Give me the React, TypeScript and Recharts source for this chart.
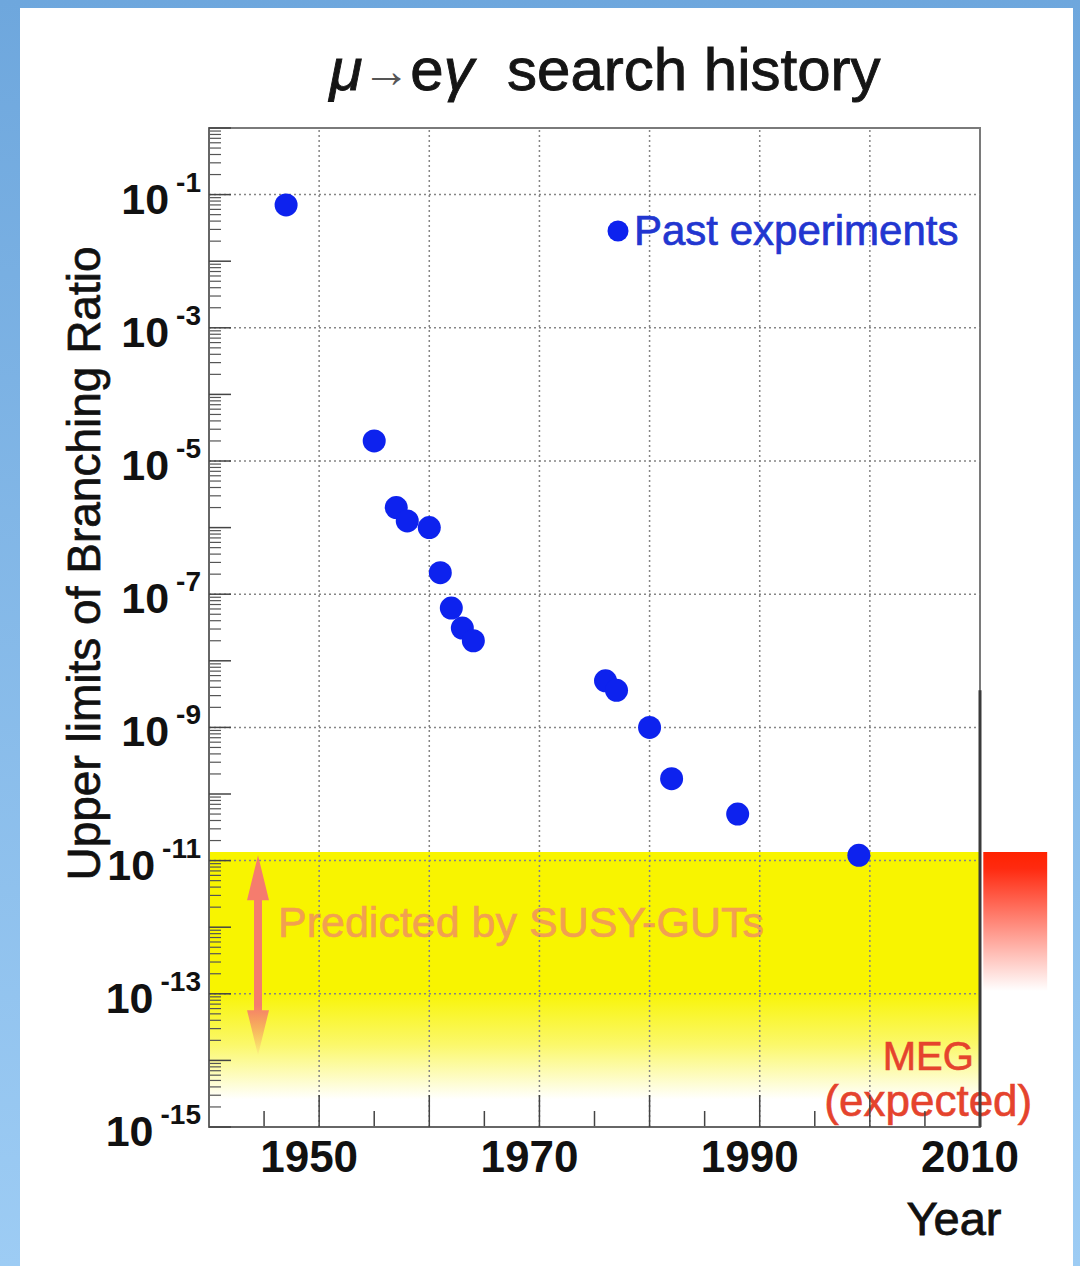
import React from 'react';
import {
  ScatterChart,
  Scatter,
  XAxis,
  YAxis,
  ReferenceArea,
  ReferenceLine,
  Legend,
} from 'recharts';

// ---- data ----
const years = [1947, 1955, 1957, 1958, 1960, 1961, 1962, 1963, 1964, 1976, 1977, 1980, 1982, 1988, 1999];
const limits = [7e-2, 2e-5, 2e-6, 1.26e-6, 1e-6, 2.1e-7, 6.2e-8, 3.1e-8, 2e-8, 5e-9, 3.6e-9, 1e-9, 1.7e-10, 5e-11, 1.2e-11];
const seriesName = 'Past experiments';

// ---- axes ----
const xDomain = [1940, 2010];
const yDomain = [1e-15, 1];
const xLabelTicks = [1950, 1970, 1990, 2010];
const xMajorTicks = [1950, 1960, 1970, 1980, 1990, 2000, 2010];
const xMinorTicks = [1945, 1955, 1965, 1975, 1985, 1995, 2005];
const yLabelTicks = [1e-15, 1e-13, 1e-11, 1e-9, 1e-7, 1e-5, 1e-3, 1e-1];
const yLabelExponents = ['-15', '-13', '-11', '-9', '-7', '-5', '-3', '-1'];
const yDecadeTicks = [1e-15, 1e-14, 1e-13, 1e-12, 1e-11, 1e-10, 1e-9, 1e-8, 1e-7, 1e-6, 1e-5, 1e-4, 1e-3, 1e-2, 1e-1, 1];
const yMinorTicks: number[] = [];
for (let e = -15; e < 0; e++) {
  for (let k = 2; k <= 9; k++) yMinorTicks.push(k * Math.pow(10, e));
}
const xGridLines = [1950, 1960, 1970, 1980, 1990, 2000];
const yGridLines = [1e-13, 1e-11, 1e-9, 1e-7, 1e-5, 1e-3, 1e-1];

// ---- bands / annotations ----
const susyYears = [1940, 2010];
const susyRange = [1e-15, 1.35e-11];
const megYears = [2010.3, 2016.1];
const megRange = [1.1e-13, 1.35e-11];
const arrowYear = 1944.45;
const arrowRange = [1.2e-14, 1.2e-11];
const frameEdgeRange = [1e-15, 3.6e-9];

const data = years.map((year, i) => ({ year, limit: limits[i] }));

const FONT = '"Liberation Sans", Arial, Helvetica, sans-serif';
const BLUE = '#0d22ee';
const GRID = { stroke: '#858585', strokeWidth: 1.5, strokeDasharray: '2 3' };

const EmptyTick = () => <g />;

const YTick = (props: any) => {
  const { x, y, payload } = props;
  const idx = yLabelTicks.indexOf(payload.value);
  const exp = idx >= 0 ? yLabelExponents[idx] : '';
  return (
    <text x={x} y={y + 19} textAnchor="end" fontFamily={FONT} fontSize={43} fontWeight="bold" fill="#111">
      10
      <tspan fontSize={28} dx={7} dy={-22}>{exp}</tspan>
    </text>
  );
};

const XTick = (props: any) => {
  const { x, y, payload } = props;
  return (
    <text x={x - 10} y={y + 37} textAnchor="middle" fontFamily={FONT} fontSize={44} fontWeight="bold" fill="#111">
      {payload.value}
    </text>
  );
};

const ArrowShape = (props: any) => {
  const { x1, y1, y2 } = props;
  const cx = x1;
  const top = Math.min(y1, y2);
  const bot = Math.max(y1, y2);
  const hw = 11;
  const hl = 45;
  const sw = 4;
  const d = `M${cx},${top} L${cx + hw},${top + hl} L${cx + sw},${top + hl} L${cx + sw},${bot - hl} L${cx + hw},${bot - hl} L${cx},${bot} L${cx - hw},${bot - hl} L${cx - sw},${bot - hl} L${cx - sw},${top + hl} L${cx - hw},${top + hl} Z`;
  return <path d={d} fill="url(#arrowGrad)" />;
};

const Dot = (props: any) => <circle cx={props.cx} cy={props.cy} r={11.5} fill={BLUE} />;

const LegendContent = (props: any) => {
  const payload = props.payload || [];
  return (
    <div>
      {payload.map((p: any, i: number) => (
        <div key={i} style={{ display: 'flex', alignItems: 'center' }}>
          <svg width={22} height={22} style={{ display: 'block' }}>
            <circle cx={11} cy={11} r={10.5} fill={BLUE} />
          </svg>
          <span
            style={{
              fontFamily: FONT,
              fontSize: 42,
              lineHeight: '42px',
              color: '#2236d0',
              marginLeft: 5,
              WebkitTextStroke: '0.7px #2236d0',
            }}
          >
            {p.value}
          </span>
        </div>
      ))}
    </div>
  );
};

export default function App() {
  return (
    <div
      style={{
        position: 'absolute',
        left: 0,
        top: 0,
        width: 1080,
        height: 1266,
        overflow: 'hidden',
        background: 'linear-gradient(to bottom, #6ea7dd, #9dccf4)',
      }}
    >
      <div style={{ position: 'absolute', left: 20, top: 8, width: 1053, height: 1258, background: '#ffffff' }} />
      <div
        style={{
          position: 'absolute',
          left: 0,
          top: 37,
          width: 1210,
          textAlign: 'center',
          fontFamily: FONT,
          fontSize: 60,
          lineHeight: '66px',
          color: '#151515',
          whiteSpace: 'pre',
          WebkitTextStroke: '0.9px #151515',
        }}
      >
        <span style={{ fontStyle: 'italic' }}>μ</span>
        <span style={{ fontSize: 48, color: '#555', WebkitTextStroke: '0px', position: 'relative', top: -3 }}>→</span>
        e<span style={{ fontStyle: 'italic' }}>γ</span>  search history
      </div>
      <div style={{ position: 'absolute', left: 0, top: 0 }}>
        <ScatterChart width={1080} height={1266} data={data} margin={{ top: 128, right: 100, left: 99, bottom: 79 }}>
          <defs>
            <linearGradient id="yellowGrad" x1="0" y1="0" x2="0" y2="1">
              <stop offset="0" stopColor="#f8f400" />
              <stop offset="0.5" stopColor="#f8f400" />
              <stop offset="0.7" stopColor="#fbf86a" />
              <stop offset="0.9" stopColor="#ffffff" />
            </linearGradient>
            <linearGradient id="redGrad" x1="0" y1="0" x2="0" y2="1">
              <stop offset="0" stopColor="#ff2200" />
              <stop offset="0.12" stopColor="#ff2a10" />
              <stop offset="1" stopColor="#ffffff" />
            </linearGradient>
            <linearGradient id="arrowGrad" x1="0" y1="0" x2="0" y2="1">
              <stop offset="0" stopColor="#f57c6e" />
              <stop offset="0.75" stopColor="#f57c6e" />
              <stop offset="1" stopColor="#f57c6e" stopOpacity="0.05" />
            </linearGradient>
          </defs>

          <ReferenceArea
            xAxisId="x"
            yAxisId="y"
            x1={susyYears[0]}
            x2={susyYears[1]}
            y1={susyRange[0]}
            y2={susyRange[1]}
            fill="url(#yellowGrad)"
            fillOpacity={1}
            stroke="none"
            label={{
              content: (p: any) => {
                const vb = p.viewBox || { x: 209, y: 852 };
                return (
                  <text x={vb.x + 69} y={vb.y + 85} fontFamily={FONT} fontSize={43} fill="#f2a050" stroke="#f2a050" strokeWidth={0.6}>
                    Predicted by SUSY-GUTs
                  </text>
                );
              },
            }}
          />
          <ReferenceArea
            xAxisId="x"
            yAxisId="y"
            x1={megYears[0]}
            x2={megYears[1]}
            y1={megRange[0]}
            y2={megRange[1]}
            ifOverflow="visible"
            fill="url(#redGrad)"
            fillOpacity={1}
            stroke="none"
            label={{
              content: (p: any) => {
                const vb = p.viewBox || { x: 983, y: 852 };
                return (
                  <text textAnchor="middle" fontFamily={FONT} fill="#e5432d" stroke="#e5432d" strokeWidth={0.6}>
                    <tspan x={vb.x - 55} y={vb.y + 218} fontSize={40}>MEG</tspan>
                    <tspan x={vb.x - 55} y={vb.y + 264} fontSize={44}>(expected)</tspan>
                  </text>
                );
              },
            }}
          />

          {xGridLines.map((v) => (
            <ReferenceLine key={`gx${v}`} xAxisId="x" yAxisId="y" x={v} {...GRID} />
          ))}
          {yGridLines.map((v) => (
            <ReferenceLine key={`gy${v}`} xAxisId="x" yAxisId="y" y={v} {...GRID} />
          ))}

          <XAxis
            xAxisId="x"
            dataKey="year"
            type="number"
            domain={xDomain}
            allowDataOverflow
            ticks={xLabelTicks}
            interval={0}
            tickLine={false}
            axisLine={{ stroke: '#666', strokeWidth: 2 }}
            tick={<XTick />}
            height={60}
            label={{
              content: (p: any) => {
                const vb = p.viewBox || { x: 209, y: 1127, width: 771 };
                return (
                  <text x={vb.x + vb.width - 26} y={vb.y + 108} textAnchor="middle" fontFamily={FONT} fontSize={47} fill="#111" stroke="#111" strokeWidth={0.8}>
                    Year
                  </text>
                );
              },
            }}
          />
          <XAxis xAxisId="xmaj" dataKey="year" type="number" domain={xDomain} allowDataOverflow ticks={xMajorTicks} interval={0} mirror height={1} tick={<EmptyTick />} axisLine={false} tickSize={32} tickLine={{ stroke: '#444', strokeWidth: 1.5 }} />
          <XAxis xAxisId="xmin" dataKey="year" type="number" domain={xDomain} allowDataOverflow ticks={xMinorTicks} interval={0} mirror height={1} tick={<EmptyTick />} axisLine={false} tickSize={15} tickLine={{ stroke: '#444', strokeWidth: 1.5 }} />

          <YAxis
            yAxisId="y"
            dataKey="limit"
            type="number"
            scale="log"
            domain={yDomain}
            allowDataOverflow
            ticks={yLabelTicks}
            interval={0}
            tickLine={false}
            axisLine={{ stroke: '#666', strokeWidth: 2 }}
            tick={<YTick />}
            width={110}
            label={{
              content: (p: any) => {
                const vb = p.viewBox || { x: 99, y: 128, height: 999 };
                const cx = vb.x + 1;
                const cy = vb.y + vb.height / 2 - 64;
                return (
                  <text x={cx} y={cy} transform={`rotate(-90, ${cx}, ${cy})`} textAnchor="middle" fontFamily={FONT} fontSize={46} fill="#111" stroke="#111" strokeWidth={0.7}>
                    Upper limits of Branching Ratio
                  </text>
                );
              },
            }}
          />
          <YAxis yAxisId="ymaj" dataKey="limit" type="number" scale="log" domain={yDomain} allowDataOverflow ticks={yDecadeTicks} interval={0} mirror width={1} tick={<EmptyTick />} axisLine={false} tickSize={22} tickLine={{ stroke: '#444', strokeWidth: 1.5 }} />
          <YAxis yAxisId="ymin" dataKey="limit" type="number" scale="log" domain={yDomain} allowDataOverflow ticks={yMinorTicks} interval={0} mirror width={1} tick={<EmptyTick />} axisLine={false} tickSize={11} tickLine={{ stroke: '#555', strokeWidth: 1.2 }} />

          <ReferenceArea
            xAxisId="x"
            yAxisId="y"
            x1={xDomain[0]}
            x2={xDomain[1]}
            y1={yDomain[0]}
            y2={yDomain[1]}
            fill="none"
            fillOpacity={0}
            stroke="#7a7a7a"
            strokeWidth={2}
          />
          <ReferenceLine
            xAxisId="x"
            yAxisId="y"
            segment={[
              { x: xDomain[1], y: frameEdgeRange[1] },
              { x: xDomain[1], y: frameEdgeRange[0] },
            ]}
            stroke="#3a3a3a"
            strokeWidth={3}
          />

          <ReferenceLine
            xAxisId="x"
            yAxisId="y"
            segment={[
              { x: arrowYear, y: arrowRange[1] },
              { x: arrowYear, y: arrowRange[0] },
            ]}
            shape={<ArrowShape />}
          />

          <Legend
            layout="vertical"
            align="center"
            verticalAlign="middle"
            wrapperStyle={{ left: 607, top: 210, width: 400 }}
            content={<LegendContent />}
          />

          <Scatter
            name={seriesName}
            xAxisId="x"
            yAxisId="y"
            data={data}
            fill={BLUE}
            shape={<Dot />}
            isAnimationActive={false}
          />
        </ScatterChart>
      </div>
    </div>
  );
}
